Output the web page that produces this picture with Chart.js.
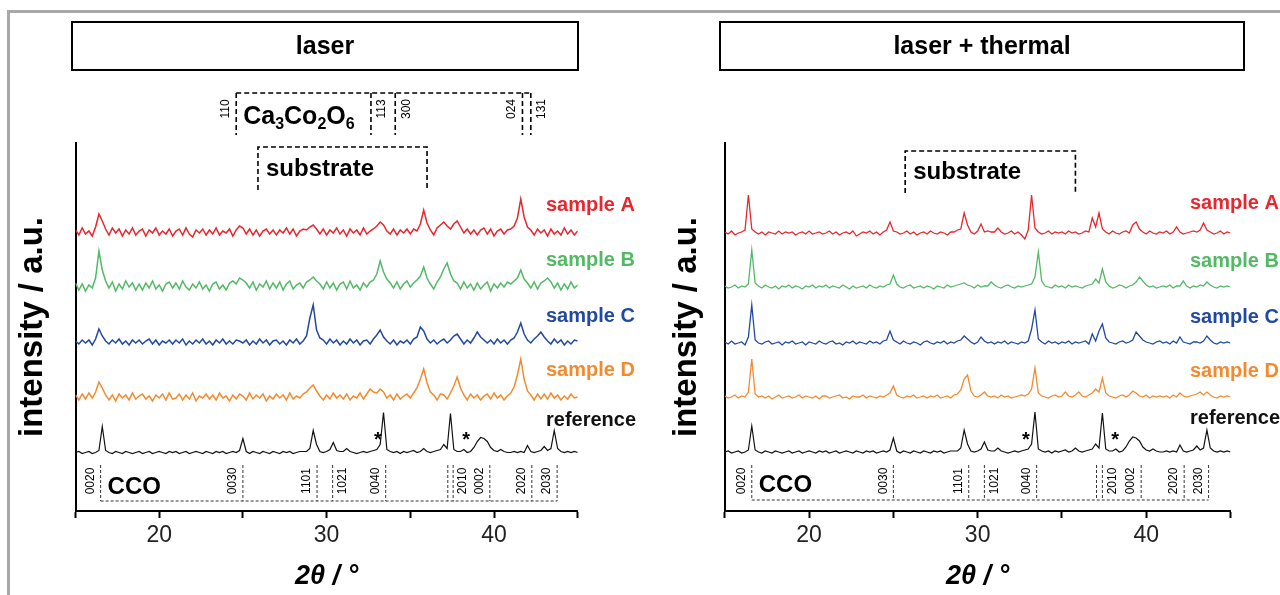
<!DOCTYPE html>
<html>
<head>
<meta charset="utf-8">
<script src="https://cdn.jsdelivr.net/npm/chart.js@4.4.1/dist/chart.umd.min.js"></script>
<style>
  html, body { margin: 0; padding: 0; background: #fff; }
  body { width: 1280px; height: 595px; position: relative; overflow: hidden; }
  .frame { position: absolute; left: 7px; top: 10px; width: 1300px; height: 600px;
           border-left: 3px solid #a8a8a8; border-top: 3px solid #a8a8a8; }
  .panel { position: absolute; top: 0; width: 640px; height: 595px; }
  #left { left: 0; }
  #right { left: 640px; }
</style>
</head>
<body>
<div class="frame"></div>
<div class="panel" id="left"><canvas id="laserChart"></canvas></div>
<div class="panel" id="right"><canvas id="thermalChart"></canvas></div>
<script>
// 2theta grid (degrees)
const twoTheta = [
  15, 15.2, 15.4, 15.6, 15.8, 16, 16.2, 16.4, 16.6, 16.8,
  17, 17.2, 17.4, 17.6, 17.8, 18, 18.2, 18.4, 18.6, 18.8,
  19, 19.2, 19.4, 19.6, 19.8, 20, 20.2, 20.4, 20.6, 20.8,
  21, 21.2, 21.4, 21.6, 21.8, 22, 22.2, 22.4, 22.6, 22.8,
  23, 23.2, 23.4, 23.6, 23.8, 24, 24.2, 24.4, 24.6, 24.8,
  25, 25.2, 25.4, 25.6, 25.8, 26, 26.2, 26.4, 26.6, 26.8,
  27, 27.2, 27.4, 27.6, 27.8, 28, 28.2, 28.4, 28.6, 28.8,
  29, 29.2, 29.4, 29.6, 29.8, 30, 30.2, 30.4, 30.6, 30.8,
  31, 31.2, 31.4, 31.6, 31.8, 32, 32.2, 32.4, 32.6, 32.8,
  33, 33.2, 33.4, 33.6, 33.8, 34, 34.2, 34.4, 34.6, 34.8,
  35, 35.2, 35.4, 35.6, 35.8, 36, 36.2, 36.4, 36.6, 36.8,
  37, 37.2, 37.4, 37.6, 37.8, 38, 38.2, 38.4, 38.6, 38.8,
  39, 39.2, 39.4, 39.6, 39.8, 40, 40.2, 40.4, 40.6, 40.8,
  41, 41.2, 41.4, 41.6, 41.8, 42, 42.2, 42.4, 42.6, 42.8,
  43, 43.2, 43.4, 43.6, 43.8, 44, 44.2, 44.4, 44.6, 44.8,
  45
];

const sampleNames = ["sample A", "sample B", "sample C", "sample D", "reference"];
const seriesColors = ["#e8262d", "#52b964", "#2149a1", "#f28b30", "#111111"];
const xTicks = [20, 30, 40];

// "laser" panel intensities (a.u.)
const laserA = [
  2, -3, 4, -2, 1, -4, 5, 18, 11, 3,
  -3, 4, -1, 3, -4, 2, -2, 4, -3, 1,
  3, -4, 2, -1, 4, -3, 1, -2, 3, -4,
  1, 3, -3, 4, -2, -5, 2, -1, 3, -3,
  2, -2, 4, -3, 1, -1, 3, -4, 2, 6,
  4, -2, 3, -3, 2, -4, 1, 3, -2, 2,
  -3, 2, -1, 4, -2, 3, -4, 1, 3, 2,
  5, 7, 3, -2, 3, -3, 2, -1, 4, -2,
  2, -4, 3, -1, 2, -3, 4, -2, 1, 3,
  6, 10, 7, 1, -2, 3, -3, 2, -1, 3,
  -2, 3, 1, 8, 22, 9, 2, -3, 4, 7,
  10, 6, 3, 8, 11, 5, -1, 3, -2, 2,
  -3, 2, 4, -2, 3, -4, 1, 3, -2, 2,
  3, 6, 14, 33, 15, 5, 2, -3, 3, -1,
  2, -4, 3, -2, 1, -3, 4, -2, 2, -3,
  1
];
const laserB = [
  3, -4, 2, -5, 1, -2, 8, 35, 16, 5,
  -2, 4, -5, 2, -3, 5, -1, 3, -4, 2,
  -4, 3, -2, 5, -3, 1, -5, 2, 4, -2,
  3, -3, 5, -1, -4, 2, -2, 4, -3, 1,
  -5, 2, 4, -3, 1, -4, 3, 5, 2, 8,
  6, 3, -2, 4, -4, 2, -1, 5, -3, 3,
  -2, 4, -4, 2, 5, -3, 1, 3, -2, 4,
  6, 9, 5, 2, -3, 4, -2, 3, -4, 2,
  4, -3, 5, -2, 1, -4, 3, -1, 4, 6,
  12, 25, 14, 7, 3, -2, 4, -3, 2, 5,
  -1, 3, 6, 10, 19, 8, 2, -3, 4, 9,
  17, 23, 12, 5, 3, -3, 4, -2, 2, -4,
  3, -3, 1, 4, -5, 2, -2, 3, -1, 4,
  2, 5, 8, 16, 7, 3, -2, 4, -3, 3,
  5, 8, 4, -2, 3, -4, 2, -3, 4, -2,
  1
];
const laserC = [
  1, -2, 2, -1, 2, -3, 3, 13, 6, 1,
  -2, 2, -1, 3, -2, 1, -3, 2, -1, 2,
  -2, 1, 3, -2, 2, -3, 1, -1, 2, -2,
  2, -1, 3, -3, 1, -2, 2, -1, 3, -2,
  1, -3, 2, -1, 3, -2, 1, -2, 2, 1,
  -1, 2, -3, 1, -2, 3, -1, 2, -3, 1,
  2, -2, 1, -3, 2, -1, 3, -2, 1, 6,
  24, 37, 12, 4, 2, -2, 3, -1, 2, -3,
  1, -2, 3, -1, 2, -3, 1, 2, -2, 3,
  7, 12, 5, 1, -2, 2, -3, 1, -1, 2,
  -2, 3, 5, 15, 11, 3, -1, 2, -2, 1,
  3, -1, 2, 6, 8, 3, -2, 2, -1, 4,
  10, 5, 2, -1, 2, -2, 3, -1, 2, -2,
  2, 4, 10, 19, 8, 2, -1, 3, 6, 10,
  5, 1, -2, 3, -1, 2, -3, 1, -2, 2,
  1
];
const laserD = [
  2, -3, 3, -2, 4, -1, 5, 15, 9, 2,
  -3, 2, -4, 3, -1, 2, -3, 4, -2, 1,
  3, -2, 1, -4, 2, -1, 3, -3, 4, -2,
  -1, 3, -3, 2, -2, 4, -4, 1, -1, 3,
  -2, 2, -3, 4, -1, 1, -4, 2, -2, 3,
  1, -3, 4, -2, 2, -1, 3, -4, 1, -2,
  3, -1, 2, -3, 4, -2, 1, -1, 3, 5,
  9, 12, 6, 1, -3, 2, -2, 4, -1, 2,
  -2, 3, -3, 1, -1, 4, -2, 3, 8, 5,
  4, 8, 5, -1, 2, -3, 3, -2, 1, 3,
  -1, 4, 9, 18, 28, 14, 5, 2, -3, 3,
  2, -2, 4, 11, 20, 9, 2, -3, 3, -1,
  2, -3, 1, 3, -2, 4, -1, 2, -3, 1,
  4, 10, 22, 38, 18, 6, 2, -3, 3, -2,
  3, -2, 4, -1, 2, -3, 1, -2, 3, -1,
  0
];
// CCO reference pattern (used in both panels)
const reference = [
  0, 1, -1, 0, 1, -1, 0, 2, 26, 2,
  0, -1, 1, 0, -1, 1, 0, -1, 0, 1,
  -1, 0, 1, -1, 0, 1, 0, -1, 1, 0,
  1, -1, 0, 1, -1, 0, 1, 0, -1, 1,
  0, -1, 1, 0, 1, -1, 0, 1, 0, 2,
  14, 1, -1, 1, 0, -1, 1, 0, -1, 1,
  0, -1, 1, 0, 1, -1, 0, 1, 1, 1,
  4, 22, 8, 1, 0, 1, 3, 10, 2, 1,
  1, 4, 1, 0, -1, 0, 1, 0, 1, 2,
  3, 8, 40, 3, 1, 0, 1, -1, 1, 0,
  1, 2, 0, 1, 4, 1, 0, 1, 2, 3,
  8, 4, 39, 3, 1, 1, 3, 0, 1, 5,
  11, 15, 14, 11, 5, 2, 1, 3, 1, 0,
  0, 1, 0, 1, 0, 7, 1, 0, 1, 2,
  6, 2, 4, 22, 4, 1, 0, 1, 0, 1,
  0
];

// "laser + thermal" panel intensities (a.u.)
const thermalA = [
  1, -1, 2, -2, 0, 1, 3, 38, 4, 1,
  -1, 1, -2, 1, 0, -1, 2, -1, 1, 0,
  1, -2, 0, 1, -1, 2, -1, 0, 1, -1,
  0, 2, -1, 1, -2, 0, 1, -1, 2, -3,
  -1, 1, 0, 2, -1, 1, -2, 1, 3, 11,
  2, 1, -1, 0, 2, -1, 1, -2, 0, 1,
  -1, 2, 0, -1, 1, 0, -2, 1, 1, 3,
  4, 20, 8, 1, -1, 2, 9, 1, 2, 1,
  1, 5, 1, -1, 0, 2, -1, 1, -2, -6,
  3, 38, 5, 1, -1, 0, 2, -1, 1, 0,
  1, -1, 2, 0, 1, -1, 0, 2, 1, 15,
  6, 20, 4, 1, -1, 2, 0, -1, 1, 2,
  0, 8, 11, 4, 1, -1, 2, 0, -1, 1,
  0, 2, -1, 1, 6, 1, -1, 0, 1, 2,
  1, 3, 10, 3, 1, -1, 0, 2, -1, 1,
  0
];
const thermalB = [
  1, -1, 0, 2, -1, 1, 0, 3, 37, 4,
  1, -1, 2, 0, -1, 1, -2, 1, 0, 2,
  -1, 1, 0, -2, 1, 0, 2, -1, 1, 0,
  2, -1, 1, 0, -1, 2, 0, -2, 1, -1,
  0, 1, -1, 2, 0, -1, 1, 0, 2, 3,
  12, 3, 0, -1, 1, 2, -1, 0, 1, -1,
  1, 0, -2, 1, 0, -1, 2, 0, 1, 2,
  3, 4, 2, 1, -1, 2, 0, 1, 1, 5,
  2, 0, -1, 1, 2, 0, -1, 1, 0, 1,
  2, 3, 10, 35, 6, 1, 0, -1, 2, 0,
  1, -1, 2, 0, 1, 0, -1, 1, 2, 3,
  8, 4, 18, 5, 1, -1, 0, 2, 1, -1,
  1, 2, 5, 10, 6, 2, 0, 1, -1, 0,
  1, 0, 2, -1, 1, 1, 6, 1, -1, 1,
  0, 2, 1, 5, 2, 0, -1, 1, 0, 1,
  0
];
const thermalC = [
  1, -1, 2, -1, 0, 1, -2, 6, 38, 3,
  0, -1, 1, 2, -1, 0, 1, -2, 1, 0,
  2, -1, 0, 1, -2, 1, 0, -1, 2, 0,
  -1, 1, 2, -1, 0, -2, 1, 0, 2, -1,
  1, 0, -1, 2, 0, 1, -1, 2, 3, 12,
  3, 1, -1, 2, 0, -1, 1, 0, -2, 1,
  2, 0, -1, 1, 0, 2, -1, 1, 0, 2,
  3, 7, 4, 1, -1, 1, 6, 2, 0, 1,
  -1, 1, 0, 2, -1, 1, 0, -1, 1, 0,
  2, 14, 33, 4, 1, -1, 2, 0, 1, -1,
  1, 0, 2, -1, 1, 0, 1, 2, -1, 9,
  2, 12, 19, 5, 1, 0, -1, 1, 2, 0,
  1, 3, 11, 7, 3, 1, 0, -1, 1, 2,
  0, 1, -1, 2, 0, 6, 1, 0, -1, 1,
  1, 0, 2, 7, 3, 0, -1, 1, 0, 1,
  0
];
const thermalD = [
  1, -1, 0, 2, -1, 1, 0, 5, 38, 3,
  0, 1, -1, 1, -2, 0, 2, -1, 0, 1,
  -1, 0, 2, -1, 1, 0, -1, 1, -2, 1,
  1, -1, 0, 1, 2, -1, 0, -2, 1, 0,
  0, 2, -1, 1, 0, -1, 1, 0, 2, 4,
  11, 2, 0, -1, 1, 0, 2, -1, 0, 1,
  -1, 1, 0, 2, -1, 0, 1, -1, 2, 3,
  7, 18, 22, 6, 1, 0, 2, 5, 1, 0,
  1, -1, 2, 0, 1, -1, 0, 1, 2, 1,
  3, 8, 29, 4, 1, 0, -1, 1, 2, 0,
  1, 5, 1, 0, 2, 5, 1, 0, 2, 4,
  8, 5, 19, 4, 1, 0, -1, 1, 2, 0,
  2, 6, 4, 1, 0, 2, -1, 1, 0, 1,
  0, 1, -1, 2, 0, 4, 1, 0, 1, 2,
  3, 5, 2, 5, 2, 0, -1, 1, 0, 1,
  0
];

// peak marker positions (2theta)
const ca3co2o6Lines = [24.6, 32.65, 34.1, 41.7, 42.2];
const ca3co2o6Labels = ["110", "113", "300", "024", "131"];
const ccoLabels = ["0020", "0030", "1101", "1021", "0040", "", "2010", "0002", "2020", "2030"];
const ccoLinesLaser = [16.5, 25.0, 29.43, 30.36, 33.53, 37.24, 37.56, 39.75, 42.26, 43.77];
const ccoLinesThermal = [16.6, 25.0, 29.47, 30.4, 33.5, 37.05, 37.4, 39.7, 42.25, 43.7];
const starsLaser = [33.07, 38.33];
const starsThermal = [32.86, 38.16];

const FONT = '"Liberation Sans", Arial, Helvetica, sans-serif';

function vText(ctx, text, x, y) {
  ctx.save();
  ctx.translate(x, y);
  ctx.rotate(-Math.PI / 2);
  ctx.fillText(text, 0, 0);
  ctx.restore();
}

function line(ctx, x1, y1, x2, y2) {
  ctx.beginPath();
  ctx.moveTo(x1, y1);
  ctx.lineTo(x2, y2);
  ctx.stroke();
}

// side of the line each label sits on (-1 left, +1 right)
const ccoSides = [-1, -1, -1, 1, -1, 0, 1, -1, -1, -1];
const caSides = [-1, 1, 1, -1, 1];

function drawFormula(ctx, x, y) {
  const parts = [["Ca", 0], ["3", 1], ["Co", 0], ["2", 1], ["O", 0], ["6", 1]];
  ctx.textAlign = "left";
  ctx.textBaseline = "alphabetic";
  parts.forEach(([t, sub]) => {
    ctx.font = (sub ? "bold 16px " : "bold 25px ") + FONT;
    ctx.fillText(t, x, y + (sub ? 5 : 0));
    x += ctx.measureText(t).width;
  });
}

const decorPlugin = {
  id: "decor",
  afterDraw(chart, args, o) {
    const ctx = chart.ctx;
    const px = (v) => chart.scales.x.getPixelForValue(v);
    ctx.save();
    ctx.fillStyle = "#000";
    ctx.strokeStyle = "#000";

    // panel title box
    const [bx, by, bw, bh] = o.box;
    ctx.lineWidth = 2;
    ctx.strokeRect(bx, by, bw, bh);
    ctx.font = "bold 25px " + FONT;
    ctx.textAlign = "center";
    ctx.textBaseline = "middle";
    ctx.fillText(o.title, bx + bw / 2, by + bh / 2 + 1);

    // Ca3Co2O6 bracket
    if (o.phase) {
      const p = o.phase;
      ctx.lineWidth = 1.6;
      ctx.setLineDash([5, 3]);
      line(ctx, px(p.lines[0]), p.top, px(p.lines[p.lines.length - 1]), p.top);
      p.lines.forEach((v) => line(ctx, px(v), p.top, px(v), p.bottom));
      ctx.setLineDash([]);
      ctx.font = "12px " + FONT;
      ctx.textAlign = "center";
      ctx.textBaseline = "middle";
      p.lines.forEach((v, i) => vText(ctx, ca3co2o6Labels[i], px(v) + caSides[i] * 11, p.labelY));
      drawFormula(ctx, px(p.lines[0]) + 7, p.formulaY);
    }

    // substrate bracket
    const s = o.substrate;
    ctx.lineWidth = 1.6;
    ctx.setLineDash([5, 3]);
    ctx.beginPath();
    ctx.moveTo(px(s.from), s.bottom);
    ctx.lineTo(px(s.from), s.top);
    ctx.lineTo(px(s.to), s.top);
    ctx.lineTo(px(s.to), s.bottom);
    ctx.stroke();
    ctx.setLineDash([]);
    ctx.font = "bold 24px " + FONT;
    ctx.textAlign = "left";
    ctx.textBaseline = "middle";
    ctx.fillText("substrate", px(s.from) + 8, s.textY);

    // CCO reflections
    const c = o.cco;
    ctx.lineWidth = 1;
    ctx.strokeStyle = "#333";
    ctx.setLineDash([3, 2]);
    c.lines.forEach((v) => line(ctx, px(v), c.top, px(v), c.bottom));
    line(ctx, px(c.lines[0]), c.bottom, px(c.lines[c.lines.length - 1]), c.bottom);
    ctx.setLineDash([]);
    ctx.font = "12px " + FONT;
    ctx.textAlign = "center";
    c.lines.forEach((v, i) => {
      if (ccoLabels[i]) vText(ctx, ccoLabels[i], px(v) + ccoSides[i] * 10, c.labelY);
    });
    ctx.font = "bold 24px " + FONT;
    ctx.textAlign = "left";
    ctx.fillText("CCO", px(c.lines[0]) + 7, c.textY);

    // asterisks
    ctx.font = "bold 20px " + FONT;
    ctx.textAlign = "center";
    o.stars.forEach((v) => ctx.fillText("*", px(v), o.starY));

    // series names
    ctx.font = "bold 20px " + FONT;
    ctx.textAlign = "left";
    sampleNames.forEach((n, i) => {
      ctx.fillStyle = seriesColors[i];
      ctx.fillText(n, o.labelX, o.labelY[i]);
    });
    ctx.restore();
  }
};

function makeChart(id, series, offsets, widths, left, right, yTitlePad, decor) {
  const datasets = series.map((vals, i) => ({
    label: sampleNames[i],
    data: twoTheta.map((t, k) => ({ x: t, y: vals[k] + offsets[i] })),
    borderColor: seriesColors[i],
    borderWidth: widths[i],
    pointRadius: 0,
    tension: 0,
    fill: false
  }));
  return new Chart(document.getElementById(id), {
    type: "line",
    data: { datasets },
    options: {
      responsive: true,
      maintainAspectRatio: false,
      animation: false,
      layout: { padding: { left: 0, right: 640 - right, top: 143, bottom: 0 } },
      plugins: { legend: { display: false }, tooltip: { enabled: false }, decor },
      scales: {
        x: {
          type: "linear",
          min: 15,
          max: 45,
          ticks: {
            stepSize: 5,
            autoSkip: false,
            maxRotation: 0,
            padding: 4,
            color: "#222",
            font: { family: FONT, size: 23 },
            callback: (v) => (xTicks.includes(v) ? v : "")
          },
          grid: { display: true, drawOnChartArea: false, drawTicks: true, tickLength: 7, tickWidth: 2, tickColor: "#000" },
          border: { display: true, color: "#000", width: 2 },
          title: {
            display: true,
            text: "2θ / °",
            color: "#000",
            font: { family: FONT, size: 27, weight: "bold", style: "italic" },
            padding: { top: 0, bottom: 2 }
          },
          afterFit: (s) => { s.height = 84; }
        },
        y: {
          min: 0,
          max: 368,
          ticks: { display: false },
          grid: { display: false },
          border: { display: true, color: "#000", width: 2 },
          title: {
            display: true,
            text: "intensity / a.u.",
            color: "#000",
            font: { family: FONT, size: 33, weight: "bold" },
            padding: { top: yTitlePad, bottom: 0 }
          },
          afterFit: (s) => { s.width = left; }
        }
      }
    },
    plugins: [decorPlugin]
  });
}

makeChart("laserChart", [laserA, laserB, laserC, laserD, reference], [279, 225, 169, 114, 58.5],
  [1.5, 1.5, 1.5, 1.5, 1.2], 75.5, 577.7, 13, {
  box: [72, 22, 506, 48],
  title: "laser",
  phase: { lines: ca3co2o6Lines, top: 93, bottom: 135, labelY: 109, formulaY: 124 },
  substrate: { from: 25.9, to: 36.0, top: 147, bottom: 190, textY: 169 },
  cco: { lines: ccoLinesLaser, top: 465, bottom: 501, labelY: 481, textY: 487 },
  stars: starsLaser,
  starY: 440,
  labelX: 546,
  labelY: [205, 260, 316, 370, 420]
});

makeChart("thermalChart", [thermalA, thermalB, thermalC, thermalD, reference], [278, 224, 168, 114, 59],
  [1.3, 1.3, 1.3, 1.3, 1.2], 84.8, 590.5, 27, {
  box: [80, 22, 524, 48],
  title: "laser + thermal",
  substrate: { from: 25.7, to: 35.8, top: 151, bottom: 193, textY: 172 },
  cco: { lines: ccoLinesThermal, top: 465, bottom: 500, labelY: 481, textY: 485 },
  stars: starsThermal,
  starY: 440,
  labelX: 550,
  labelY: [203, 261, 317, 371, 418]
});
</script>
</body>
</html>
